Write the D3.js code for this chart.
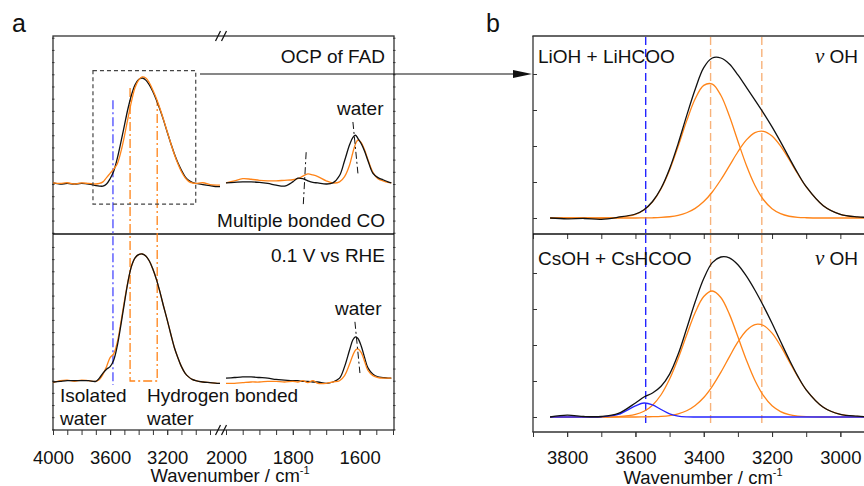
<!DOCTYPE html>
<html>
<head>
<meta charset="utf-8">
<script src="https://cdn.jsdelivr.net/npm/d3@7"></script>
<style>
  body { margin: 0; background: #fff; }
  text { font-family: "Liberation Sans", Arial, sans-serif; fill: #111; }
</style>
</head>
<body>
<div id="chart"></div>
<script>
// ---- panel a, high wavenumber segment (4000 - 2830) ----
var wnA1 = [4000, 3950, 3900, 3850, 3800, 3750, 3700, 3675, 3650, 3625, 3600, 3575, 3550, 3525, 3500, 3475, 3450, 3425, 3400, 3375,
            3350, 3325, 3300, 3275, 3250, 3225, 3200, 3175, 3150, 3125, 3100, 3075, 3050, 3025, 3000, 2950, 2900, 2850, 2830];
var ocpBlack1 = [0.01, 0.0, 0.005, 0.0, 0.005, 0.0, -0.015, -0.02, -0.02, 0.0, 0.05, 0.12, 0.24, 0.39, 0.55, 0.71, 0.84, 0.935, 0.985, 1.0,
                 0.98, 0.935, 0.87, 0.79, 0.70, 0.60, 0.49, 0.385, 0.285, 0.20, 0.13, 0.07, 0.035, 0.015, 0.005, -0.005, -0.015, -0.025, -0.025];
var ocpOrange1 = [0.01, 0.005, 0.012, 0.0, 0.01, 0.005, 0.0, 0.005, 0.02, 0.06, 0.10, 0.14, 0.19, 0.30, 0.45, 0.62, 0.78, 0.91, 0.98, 1.01,
                  1.0, 0.955, 0.885, 0.805, 0.71, 0.605, 0.495, 0.385, 0.28, 0.19, 0.115, 0.06, 0.025, 0.01, 0.005, 0.012, -0.005, -0.01, -0.01];
var rheBlack1 = [0.0, 0.005, 0.01, 0.01, 0.01, 0.01, 0.005, 0.03, 0.07, 0.10, 0.12, 0.17, 0.28, 0.44, 0.615, 0.78, 0.905, 0.97, 0.995, 1.0,
                 0.985, 0.945, 0.88, 0.80, 0.70, 0.59, 0.485, 0.375, 0.27, 0.19, 0.12, 0.07, 0.04, 0.02, 0.01, 0.0, -0.005, -0.01, -0.01];
var rheOrange1 = [-0.005, 0.01, 0.015, 0.005, 0.015, 0.01, 0.005, 0.02, 0.06, 0.12, 0.19, 0.22, 0.31, 0.46, 0.63, 0.785, 0.905, 0.97, 0.995, 1.0,
                  0.985, 0.945, 0.88, 0.80, 0.70, 0.59, 0.485, 0.375, 0.27, 0.19, 0.12, 0.07, 0.04, 0.02, 0.01, 0.0, -0.005, -0.01, -0.01];

// ---- panel a, low wavenumber segment (2000 - 1505) ----
var wnA2 = [2000, 1975, 1950, 1925, 1900, 1875, 1850, 1825, 1800, 1785, 1770, 1755, 1740, 1725, 1700,
            1680, 1660, 1645, 1630, 1620, 1612, 1605, 1595, 1585, 1575, 1560, 1545, 1530, 1515, 1505];
var ocpBlack2 = [0.01, 0.015, 0.02, 0.02, 0.015, 0.005, -0.01, -0.02, 0.02, 0.055, 0.05, 0.03, 0.015, 0.01, 0.0,
                 0.01, 0.08, 0.22, 0.37, 0.44, 0.46, 0.43, 0.38, 0.31, 0.22, 0.10, 0.06, 0.04, 0.02, 0.01];
var ocpOrange2 = [0.01, 0.03, 0.05, 0.045, 0.035, 0.03, 0.03, 0.035, 0.04, 0.05, 0.075, 0.095, 0.085, 0.07, 0.03,
                  0.01, 0.02, 0.07, 0.18, 0.30, 0.38, 0.415, 0.39, 0.32, 0.23, 0.11, 0.05, 0.03, 0.015, 0.01];
var rheBlack2 = [0.03, 0.035, 0.04, 0.04, 0.035, 0.03, 0.02, 0.015, 0.01, 0.01, 0.005, 0.005, 0.0, 0.0, -0.01,
                 0.0, 0.03, 0.12, 0.25, 0.33, 0.352, 0.34, 0.28, 0.19, 0.11, 0.06, 0.04, 0.035, 0.03, 0.03];
var rheOrange2 = [-0.01, -0.01, -0.005, 0.0, 0.0, 0.005, 0.005, 0.0, 0.005, 0.0, 0.01, -0.005, 0.01, -0.01, -0.01,
                  0.0, 0.01, 0.05, 0.14, 0.21, 0.25, 0.258, 0.23, 0.16, 0.09, 0.05, 0.035, 0.03, 0.03, 0.03];

// ---- panel b, fitted nu OH band ----
var wnB = [3850, 3800, 3750, 3700, 3650, 3600, 3575, 3550, 3525, 3500, 3475, 3450, 3425, 3400, 3375,
           3350, 3325, 3300, 3275, 3250, 3225, 3200, 3175, 3150, 3125, 3100, 3050, 3000, 2950, 2920];
var liBlack = [0.0, -0.005, -0.003, -0.008, 0.005, 0.025, 0.052, 0.103, 0.186, 0.308, 0.465, 0.64, 0.805, 0.94, 1.0,
               1.0, 0.963, 0.894, 0.816, 0.737, 0.656, 0.57, 0.476, 0.377, 0.281, 0.196, 0.077, 0.023, 0.007, 0.004];
var liFit1 = [0, 0, 0, 0, 0.003, 0.023, 0.05, 0.101, 0.183, 0.30, 0.448, 0.607, 0.745, 0.829, 0.837,
              0.767, 0.637, 0.48, 0.328, 0.203, 0.114, 0.058, 0.027, 0.011, 0.004, 0.0015, 0, 0, 0, 0];
var liFit2 = [0, 0, 0, 0, 0, 0, 0.0005, 0.0014, 0.0034, 0.0078, 0.0166, 0.0329, 0.0603, 0.1027, 0.1625,
              0.239, 0.326, 0.414, 0.488, 0.534, 0.542, 0.512, 0.449, 0.366, 0.277, 0.194, 0.077, 0.023, 0.005, 0.002];
var csBlack = [0.0, 0.012, 0.003, 0.003, 0.022, 0.088, 0.125, 0.15, 0.192, 0.268, 0.392, 0.553, 0.72, 0.865, 0.965,
               1.0, 0.995, 0.952, 0.88, 0.792, 0.693, 0.586, 0.472, 0.36, 0.257, 0.17, 0.061, 0.016, 0.005, 0.002];
var csFit1 = [0, 0, 0, 0, 0.002, 0.016, 0.036, 0.074, 0.139, 0.237, 0.366, 0.513, 0.653, 0.753, 0.7875,
              0.747, 0.643, 0.501, 0.355, 0.228, 0.133, 0.07, 0.034, 0.015, 0.006, 0.002, 0, 0, 0, 0];
var csFit2 = [0, 0, 0, 0, 0, 0, 0.001, 0.002, 0.004, 0.009, 0.02, 0.039, 0.072, 0.122, 0.192,
              0.279, 0.376, 0.469, 0.541, 0.578, 0.572, 0.524, 0.444, 0.348, 0.253, 0.17, 0.061, 0.016, 0.003, 0.001];
var csFit3 = [0, 0, 0, 0.001, 0.016, 0.07, 0.0875, 0.076, 0.047, 0.02, 0.006, 0.001, 0, 0, 0,
              0, 0, 0, 0, 0, 0, 0, 0, 0, 0, 0, 0, 0, 0, 0];

// tick labels and marker positions (cm-1)
var ticksA1 = [4000, 3600, 3200];
var ticksA2 = [2000, 1800, 1600];
var ticksB = [3800, 3600, 3400, 3200, 3000];
var isolatedWn = 3580;
var hbondWn = [3460, 3270];
var fitCentersB = [3570, 3380, 3230];

var BLACK = "#111", ORANGE = "#ff8418", LIGHTOR = "#f8b27a", BLUE = "#2525ff", LBLUE = "#6b6bff", FRAME = "#333";

var svg = d3.select("#chart").append("svg").attr("width", 864).attr("height", 486);

// scales
var xa1 = d3.scaleLinear().domain([4000, 2830]).range([53, 220]);
var xa2 = d3.scaleLinear().domain([2000, 1500]).range([226, 393]);
var yaTop = d3.scaleLinear().domain([0, 1]).range([184, 78]);
var yaBot = d3.scaleLinear().domain([0, 1]).range([382, 254]);
var xb = d3.scaleLinear().domain([3900, 2900]).range([533, 874.5]);
var ybTop = d3.scaleLinear().domain([0, 1]).range([218, 58]);
var ybBot = d3.scaleLinear().domain([0, 1]).range([417, 257]);

function pts(xs, ys) { return xs.map(function (x, i) { return [x, ys[i]]; }); }

function curve(xs, ys, xS, yS, color, w) {
    svg.append("path").datum(pts(xs, ys))
        .attr("fill", "none").attr("stroke", color).attr("stroke-width", w)
        .attr("stroke-linejoin", "round")
        .attr("d", d3.line().x(function (d) { return xS(d[0]); }).y(function (d) { return yS(d[1]); })
            .curve(d3.curveCatmullRom.alpha(0.5)));
}

function seg(x1, y1, x2, y2, color, w, dash) {
    var l = svg.append("line").attr("x1", x1).attr("y1", y1).attr("x2", x2).attr("y2", y2)
        .attr("stroke", color).attr("stroke-width", w);
    if (dash) l.attr("stroke-dasharray", dash);
    return l;
}

function label(x, y, txt, anchor, size) {
    return svg.append("text").attr("x", x).attr("y", y).attr("text-anchor", anchor || "start")
        .attr("font-size", size || 19).text(txt);
}

function axisG(axis, tx, ty) {
    var g = svg.append("g").attr("transform", "translate(" + tx + "," + ty + ")").call(axis);
    g.select(".domain").remove();
    g.selectAll("line").attr("stroke", FRAME);
    g.selectAll("text").attr("font-size", 18.5).attr("font-family", "Liberation Sans, Arial, sans-serif").attr("fill", "#111");
    return g;
}

// minor ticks only (no labels at all)
function minor(axis, tx, ty) {
    var g = axisG(axis.tickFormat(""), tx, ty);
    g.selectAll("text").remove();
    return g;
}

/* ================= panel a ================= */
// y ticks (small, crossing the frame)
var tA1 = d3.range(-0.46, 1.4, 0.115), tA2 = d3.range(-0.37, 1.15, 0.095);
[53, 394].forEach(function (x) {
    minor(d3.axisRight(yaTop).tickValues(tA1).tickSize(2.5), x - 1, 0);
    minor(d3.axisRight(yaBot).tickValues(tA2).tickSize(2.5), x - 1, 0);
});
// x axes, split by the break
minor(d3.axisBottom(xa1).tickValues(d3.range(4000, 2850, -100)).tickSize(5), 0, 430);
minor(d3.axisBottom(xa2).tickValues(d3.range(2000, 1499, -50)).tickSize(5), 0, 430);
axisG(d3.axisBottom(xa1).tickValues(ticksA1).tickSize(5).tickPadding(16).tickFormat(d3.format("d")), 0, 430);
axisG(d3.axisBottom(xa2).tickValues(ticksA2).tickSize(5).tickPadding(16).tickFormat(d3.format("d")), 0, 430);

// frame
svg.append("rect").attr("x", 53).attr("y", 36).attr("width", 341).attr("height", 394)
    .attr("fill", "none").attr("stroke", FRAME).attr("stroke-width", 1.3);
seg(53, 234, 394, 234, "#111", 1.3);
// axis break marks
[36, 430].forEach(function (y) {
    [218, 224].forEach(function (x) { seg(x - 2.5, y + 5, x + 2.5, y - 5, "#111", 1.2); });
});

// marker lines (isolated / hydrogen bonded water)
seg(xa1(isolatedWn), yaTop(0.79), xa1(isolatedWn), yaBot(-0.023), LBLUE, 1.6, "9,3,2,3");
svg.append("path")
    .attr("d", "M" + xa1(hbondWn[0]) + "," + yaTop(0.905) + "V" + yaBot(0.008) +
        "H" + xa1(hbondWn[1]) + "V" + yaTop(0.79))
    .attr("fill", "none").attr("stroke", ORANGE).attr("stroke-width", 1.3).attr("stroke-dasharray", "9,3,2,3");

// spectra
curve(wnA1, ocpBlack1, xa1, yaTop, BLACK, 1.3);
curve(wnA1, ocpOrange1, xa1, yaTop, ORANGE, 1.3);
curve(wnA2, ocpOrange2, xa2, yaTop, ORANGE, 1.3);
curve(wnA2, ocpBlack2, xa2, yaTop, BLACK, 1.3);
curve(wnA1, rheOrange1, xa1, yaBot, ORANGE, 1.3);
curve(wnA1, rheBlack1, xa1, yaBot, BLACK, 1.3);
curve(wnA2, rheBlack2, xa2, yaBot, BLACK, 1.3);
curve(wnA2, rheOrange2, xa2, yaBot, ORANGE, 1.3);

// annotation dash-dot lines
seg(xa2(1620), yaTop(0.585), xa2(1605), yaTop(0.10), "#111", 1, "7,3,2,3");
seg(xa2(1760), yaTop(0.30), xa2(1769), yaTop(-0.217), "#111", 1, "7,3,2,3");
seg(xa2(1614), yaBot(0.47), xa2(1599), yaBot(0.07), "#111", 1, "7,3,2,3");

// zoom box + arrow to panel b
svg.append("rect").attr("x", xa1(3720)).attr("y", yaTop(1.07)).attr("width", xa1(3000) - xa1(3720))
    .attr("height", yaTop(-0.19) - yaTop(1.07))
    .attr("fill", "none").attr("stroke", "#444").attr("stroke-width", 1.2).attr("stroke-dasharray", "4,3");
seg(200, ybTop(0.9), 514, ybTop(0.9), "#111", 1.2);
svg.append("path").attr("d", "M532," + ybTop(0.9) + "l-19,-4v8z").attr("fill", "#111");

// texts panel a
label(12, 32, "a", "start", 25);
label(385, 63, "OCP of FAD", "end");
label(337, 115, "water");
label(385, 227, "Multiple bonded CO", "end");
label(385, 262, "0.1 V vs RHE", "end");
label(335, 315, "water");
label(60, 402, "Isolated");
label(60, 425, "water");
label(147, 402, "Hydrogen bonded");
label(147, 425, "water");
var tA = label(230, 481.5, "Wavenumber / cm", "middle", 18.5);
tA.append("tspan").attr("font-size", 11).attr("dy", -8).text("-1");

/* ================= panel b ================= */
var tB = [0, 0.225, 0.45, 0.675, 0.9];
minor(d3.axisRight(ybTop).tickValues(tB).tickSize(4), 533, 0);
minor(d3.axisRight(ybBot).tickValues(tB).tickSize(4), 533, 0);
minor(d3.axisBottom(xb).tickValues(d3.range(3900, 2850, -100)).tickSize(5), 0, 432);
axisG(d3.axisBottom(xb).tickValues(ticksB).tickSize(5).tickPadding(14).tickFormat(d3.format("d")), 0, 432);
minor(d3.axisBottom(xb).tickValues(d3.range(3900, 2850, -100)).tickSize(5), 0, 234);

seg(533, 36, 533, 432, FRAME, 1.3);
seg(532.4, 36, 864, 36, FRAME, 1.3);
seg(532.4, 432, 864, 432, FRAME, 1.3);
seg(533, 234, 864, 234, "#111", 1.3);

// fit center markers
fitCentersB.forEach(function (c, i) {
    var col = i === 0 ? BLUE : LIGHTOR;
    seg(xb(c), 37, xb(c), 233, col, 1.4, "8,4");
    seg(xb(c), 235, xb(c), ybBot(-0.038), col, 1.4, "8,4");
});

// LiOH + LiHCOO
curve(wnB, liFit1, xb, ybTop, ORANGE, 1.3);
curve(wnB, liFit2, xb, ybTop, ORANGE, 1.3);
curve(wnB, liBlack, xb, ybTop, BLACK, 1.3);
// CsOH + CsHCOO
curve(wnB, csFit1, xb, ybBot, ORANGE, 1.3);
curve(wnB, csFit2, xb, ybBot, ORANGE, 1.3);
curve(wnB, csFit3, xb, ybBot, BLUE, 1.3);
curve(wnB, csBlack, xb, ybBot, BLACK, 1.3);

label(486, 32, "b", "start", 25);
label(538, 63, "LiOH + LiHCOO");
label(538, 265, "CsOH + CsHCOO");
[63, 265].forEach(function (y) {
    var t = label(858, y, "", "end");
    t.append("tspan").attr("font-family", "Liberation Serif, serif").attr("font-style", "italic").attr("font-size", 21).text("ν");
    t.append("tspan").text(" OH");
});
var tBt = label(703, 484, "Wavenumber / cm", "middle", 18.5);
tBt.append("tspan").attr("font-size", 11).attr("dy", -8).text("-1");
</script>
</body>
</html>
